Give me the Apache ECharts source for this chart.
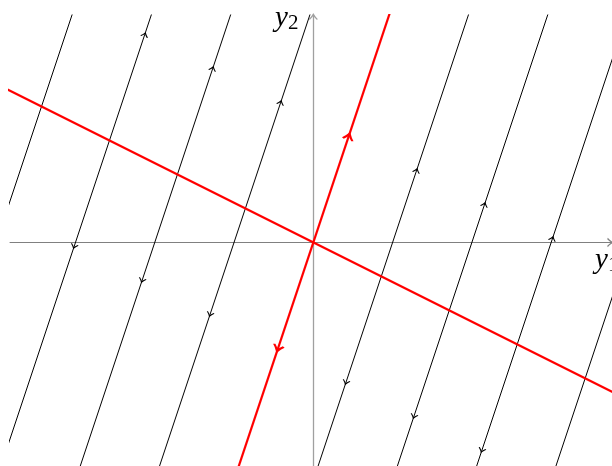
<!DOCTYPE html>
<html>
<head>
<meta charset="utf-8">
<script src="https://cdn.jsdelivr.net/npm/echarts@6/dist/echarts.min.js"></script>
<style>html,body{margin:0;padding:0;background:#fff}#chart{width:612px;height:466px}</style>
</head>
<body>
<div id="chart"></div>
<script>
// ---- data (data units, equal scales) ----
const xRange = [-4.017, 3.956];
const yRange = [-2.960, 3.013];
// line of equilibria (no arrows)
const equilibriumLine = [[-4.4, 2.2], [4.4, -2.2]];
// eigen-direction line through the origin
const eigenLine = [[-1.1, -3.3], [1.1, 3.3]];
// flow lines parallel to the eigen-direction, each given by two far end points
const flowLines = [
  [[-3.167, 3.1], [-5.233, -3.1]],
  [[-2.117, 3.1], [-4.183, -3.1]],
  [[-1.067, 3.1], [-3.133, -3.1]],
  [[-0.017, 3.1], [-2.083, -3.1]],
  [[2.083, 3.1], [0.017, -3.1]],
  [[3.133, 3.1], [1.067, -3.1]],
  [[4.183, 3.1], [2.117, -3.1]],
  [[5.233, 3.1], [3.167, -3.1]]
];
// arrow marks on flow lines
const upArrows = [[-2.233, 2.75], [-1.333, 2.3], [-0.433, 1.85], [1.367, 0.95], [2.267, 0.5], [3.167, 0.05]];
const downArrows = [[-3.167, -0.05], [-2.267, -0.5], [-1.367, -0.95], [0.433, -1.85], [1.333, -2.3], [2.233, -2.75]];
const eigenUpArrows = [[0.467, 1.4]];
const eigenDownArrows = [[-0.467, -1.4]];
// axis end points (arrow heads)
const xAxisEnd = [[3.956, 0]];
const yAxisEnd = [[0, 3.013]];
const xAxisName = ['y', '1'];
const yAxisName = ['y', '2'];

const flowAngle = -18.435; // direction of (1,3) measured from vertical, clockwise
const chevron = 'path://M0,9 Q6,5 10,0 Q14,5 20,9';

const chart = echarts.init(document.getElementById('chart'), null, {renderer: 'canvas'});

const series = [];
flowLines.forEach(function (seg) {
  series.push({
    type: 'line', data: seg, showSymbol: false, silent: true, z: 2,
    lineStyle: {color: '#000', width: 1}, clip: true
  });
});
series.push({
  type: 'line', data: equilibriumLine, showSymbol: false, silent: true, z: 4,
  lineStyle: {color: '#ff0000', width: 2.2}, clip: true
});
series.push({
  type: 'line', data: eigenLine, showSymbol: false, silent: true, z: 4,
  lineStyle: {color: '#ff0000', width: 2.2}, clip: true
});
function arrowSeries(data, rot, color, size, bw, z, offset) {
  return {
    type: 'scatter', data: data, symbol: chevron, symbolSize: size,
    symbolRotate: rot, symbolOffset: offset || [0, 0], silent: true, z: z, clip: false,
    itemStyle: {color: 'none', borderColor: color, borderWidth: bw, opacity: 1},
    emphasis: {disabled: true}
  };
}
series.push(arrowSeries(upArrows, flowAngle, '#000', [7, 4], 1, 3));
series.push(arrowSeries(downArrows, 180 + flowAngle, '#000', [7, 4], 1, 3));
series.push(arrowSeries(eigenUpArrows, flowAngle, '#ff0000', [10, 6], 2, 5));
series.push(arrowSeries(eigenDownArrows, 180 + flowAngle, '#ff0000', [10, 6], 2, 5));
series.push(arrowSeries(yAxisEnd, 0, '#a0a0a0', [8, 5], 1.2, 1, [0, 2]));
series.push(arrowSeries(xAxisEnd, -90, '#808080', [8, 5], 1.2, 1, [-2, 0]));

chart.setOption({
  animation: false,
  backgroundColor: '#fff',
  grid: {left: 10, top: 15, right: 0, bottom: 0, containLabel: false},
  xAxis: {
    type: 'value', min: xRange[0], max: xRange[1],
    axisLine: {onZero: true, lineStyle: {color: '#808080', width: 1}},
    axisTick: {show: false}, axisLabel: {show: false}, splitLine: {show: false}
  },
  yAxis: {
    type: 'value', min: yRange[0], max: yRange[1],
    axisLine: {onZero: true, lineStyle: {color: '#a0a0a0', width: 1.3}},
    axisTick: {show: false}, axisLabel: {show: false}, splitLine: {show: false}
  },
  graphic: [
    {type: 'text', x: 275, y: 18, z: 10, style: {text: yAxisName[0], fill: '#000',
      font: 'italic 29px "Liberation Serif"', verticalAlign: 'middle', align: 'left'}},
    {type: 'text', x: 288, y: 23, z: 10, style: {text: yAxisName[1], fill: '#000',
      font: '21px "Liberation Serif"', verticalAlign: 'middle', align: 'left'}},
    {type: 'text', x: 595, y: 260, z: 10, style: {text: xAxisName[0], fill: '#000',
      font: 'italic 29px "Liberation Serif"', verticalAlign: 'middle', align: 'left'}},
    {type: 'text', x: 608, y: 265, z: 10, style: {text: xAxisName[1], fill: '#000',
      font: '21px "Liberation Serif"', verticalAlign: 'middle', align: 'left'}}
  ],
  series: series
});
</script>
</body>
</html>
